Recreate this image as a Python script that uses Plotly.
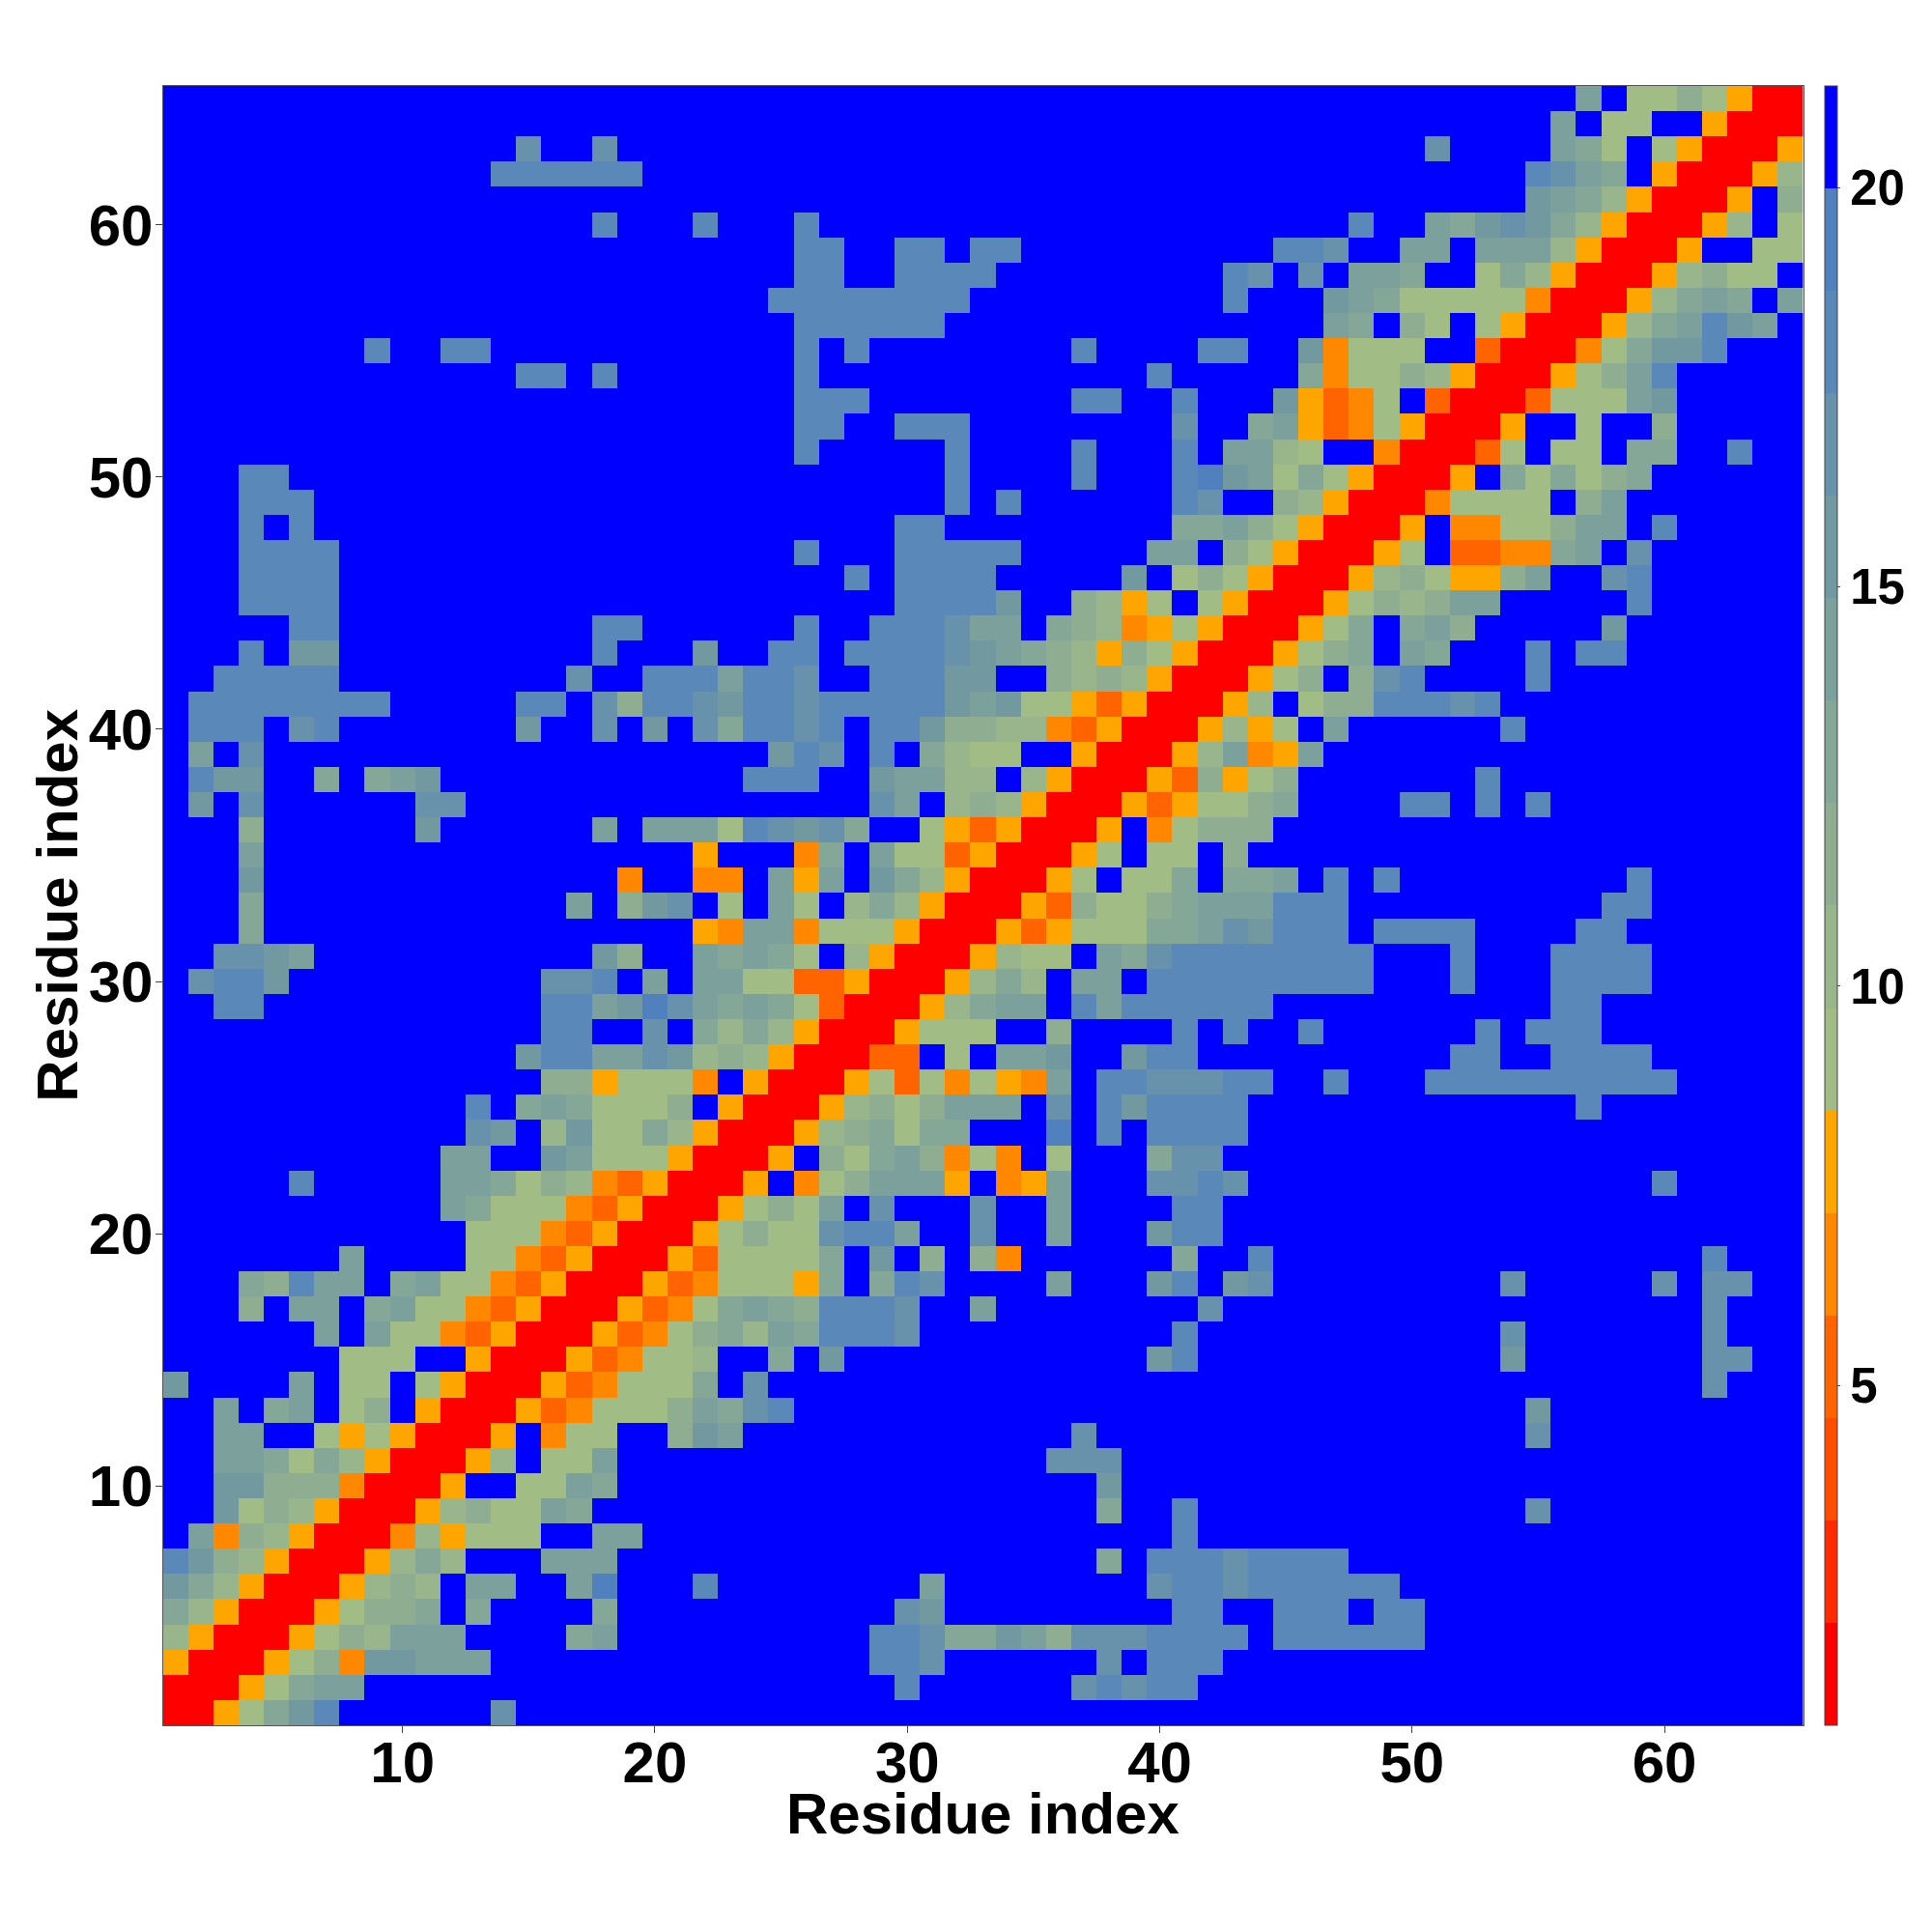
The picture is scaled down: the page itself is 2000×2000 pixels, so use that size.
import plotly.graph_objects as go

residues = list(range(1, 66))
tick_values = [10, 20, 30, 40, 50, 60]
bar_ticks = [5, 10, 15, 20]
axis_label = "Residue index"

# Distance class of each cell, top row = residue 65, bottom row = residue 1
rows_top_down = [
"..... ..... ..... ..... ..... ..... ..... ..... ..... ..... ..... .e.aa caYRR",
"..... ..... ..... ..... ..... ..... ..... ..... ..... ..... ..... e.aa. .YRRR",
"..... ..... ....g ..g.. ..... ..... ..... ..... ..... ..... g.... eda.a YRRRY",
"..... ..... ...hh hhhh. ..... ..... ..... ..... ..... ..... ....h ged.Y RRRYb",
"..... ..... ..... ..... ..... ..... ..... ..... ..... ..... ....f edbYR RRY.c",
"..... ..... ..... ..h.. .h... h.... ..... ..... ..... ..h.. edfgf dbYRR RYb.a",
"..... ..... ..... ..... ..... hh..h h.hh. ..... ....h hg..e e.eee bYRRR Y..aa",
"..... ..... ..... ..... ..... hh..h hhh.. ..... ..hg. g.eed ..adb YRRRY bcaa.",
"..... ..... ..... ..... ....h hhhhh hh... ..... ..h.. .feda aaaaO RRRYb ded.e",
"..... ..... ..... ..... ..... hhhhh h.... ..... ..... .ed.c a.aYR RRYbd ehfe.",
"..... ...h. .hh.. ..... ..... h.h.. ..... .h... .hh.. fOaaa ..FRR ROadf fh...",
"..... ..... ....h h.h.. ..... h.... ..... ....h ..... dOaac bYRRR Yaceh .....",
"..... ..... ..... ..... ..... hhh.. ..... .hh.. h...f YFOa. FRRRF aaaef .....",
"..... ..... ..... ..... ..... hh..h hh... ..... g..de YFOaY RRRY. .a..c .....",
"..... ..... ..... ..... ..... h.... .h... .h... h.eeb a..OR RRFa. aa.dd ..h..",
"...hh ..... ..... ..... ..... ..... .h... .h... hifea daYRR RY.da dacd. .....",
"...hh h.... ..... ..... ..... ..... .h.h. ..... hg..c bYRRR Oaaaa .ce.. .....",
"...h. h.... ..... ..... ..... ....h h.... ..... ddeca YRRRY .OOaa cee.h .....",
"...hh hh... ..... ..... ..... h...h hhhh. ....e e.caY RRRYa .FFOO de.g. .....",
"...hh hh... ..... ..... ..... ..h.h hhh.. ...f. acaYR RRYbc aYYce ..gh. .....",
"...hh hh... ..... ..... ..... ....h hhhf. .cbYa .aYRR RYacb cee.. ...h. .....",
"..... hh... ..... ..hh. ..... h..hh hgee. dcbOY aYRRR Yad.d ec... ..f.. .....",
"...h. ff... ..... ..h.. .f..h h.hhh hgfed cbYca YRRRY acd.e d...h .hh.. .....",
"..hhh hh... ..... .g..h hhehh g..hh hff.. cbcbY RRRYa c.cgh ....h ..... .....",
".hhhh hhhh. ....h h.gch hgfhh ghhhh hfefa aYFYR RRYb. acchh hgh.. ..... .....",
".hhh. gh... ....f ..g.f .gdhh gh.hh fccbb OFYRR RYbYa .e... ...h. ..... .....",
".e.g. ..... ..... ..... ....f hg.h. dbaa. .YRRR YbeOY e.... ..... ..... .....",
".hff. .d.de f.... ..... ...hh h..fe ebb.b YRRRY FcYac ..... ..h.. ..... .....",
".f.g. ..... gg... ..... ..... ...ge .bcbY RRRYF Yaacd ....h h.h.h ..... .....",
"...c. ..... f.... ..e.e eeahg fgd.. aYFYR RRY.O accc. ..... ..... ..... .....",
"...e. ..... ..... ..... .Y... Od.ea aFYRR RYa.a a.c.. ..... ..... ..... .....",
"...f. ..... ..... ...O. .OO.e Ye.fd bYRRR Ya.aa d.dde .h.h. ..... ...h. .....",
"...d. ..... ..... .e.cf g.a.e a.bdb YRRRY Fcaac deeeh hh... ..... ..hh. .....",
"...d. ..... ..... ..... .YOee OaaaY RRRYF Yaaad degfh hh.hh hh... .hh.. .....",
"..ggf e.... ..... ..fc. .eded a.bYR RRYba a.edg hhhhh hhh.. .h... hhhh. .....",
".ghhf ..... ..... ggh.e .eeaa FFYRR RYbdb .ee.h hhhhh hhh.. .h... hhhh. .....",
"..hh. ..... ..... hhefi geded aFRRR Ybdee .hehh hhhh. ..... ..... hh... .....",
"..... ..... ..... hh..g .dbdb YRRRY aaa.. c.... h.h.. h.... ..h.h hh... .....",
"..... ..... ....f hheeg fbcbY RRRFF .a.ee f..fh h.... ..... .hh.. hhhh. .....",
"..... ..... ..... ccYaa aO.YR RRYaF aOaYO e.hhg gghh. .h... hhhhh hhhhh .....",
"..... ..... ..h.d edaaa c.YRR RYbca ceee. g.hfh hhh.. ..... ..... .h... .....",
"..... ..... ..gf. bfaad bYRRR Ybcda dd... i.h.h hhh.. ..... ..... ..... .....",
"..... ..... .ee.. feaaa YRRRY .cade cOaO. a...d gg... ..... ..... ..... .....",
"..... h.... .eeda cbOFY RRRY. Oacee eY.OY e...g ghg.. ..... ..... ....h .....",
"..... ..... .edaa aOFYR RRYac ae.g. ..g.. e.... hh... ..... ..... ..... .....",
"..... ..... ..aaa OFYRR RYaca aghhe ..g.. e...f hh... ..... ..... ..... .....",
"..... ..e.. ..aaO FYRRR YFaaa ad.f. c.cO. ..... d..h. ..... ..... ..... .h...",
"...dc hee.d eaaOF YRRRY FOaaa Yd.dh g.... e...f h.fg. ..... ...g. ....g .gg..",
"...c. ee.de aaOFY RRRYF Oaded chhhg ..e.. ..... .g... ..... ..... ..... .g...",
"..... .e.ea aOFYR RRYFO acdbe dhhhg ..... ..... h.... ..... ...g. ..... .g...",
"..... ..aaa ..YRR RYFOa ab..d .f... ..... ....f h.... ..... ...f. ..... .gg..",
"f.... e.aa. aYRRR YFOaa ad.g. ..... ..... ..... ..... ..... ..... ..... .g...",
"..e.d e.ac. YRRRY FOaaa cedgh ..... ..... ..... ..... ..... ....f ..... .....",
"..ee. .aYaY RRRY. Oaa.. cfe.. ..... ..... .g... ..... ..... ....g ..... .....",
"..eed adbYR RRYb. aae.. ..... ..... ..... ggg.. ..... ..... ..... ..... .....",
"..ffc ccORR RY..a aed.. ..... ..... ..... ..f.. ..... ..... ..... ..... .....",
"..fac bYRRR Ybcaa ed... ..... ..... ..... ..d.. h.... ..... ....g ..... .....",
".eOcb YRRRO bYaaa ..ee. ..... ..... ..... ..... h.... ..... ..... ..... .....",
"hfcbY RRRYb db... eee.. ..... ..... ..... ..d.h hhghh hh... ..... ..... .....",
"fdbYR RRYbc b.ee. .ei.. .h... ..... e.... ....g hhghh hhhh. ..... ..... .....",
"dbYRR RYacc d.d.. ..d.. ..... ....g f.... ..... hh..h hh.hh ..... ..... .....",
"bYRRR Yacbe ee... .de.. ..... ...hh gddfe cgggh hhh.h hhhhh ..... ..... .....",
"YRRRY acOff eee.. ..... ..... ...hh g.... ..g.h hh... ..... ..... ..... .....",
"RRRYa dee.. ..... ..... ..... ....h ..... .ghgh h.... ..... ..... ..... .....",
"RRYad fh... ...g. ..... ..... ..... ..... ..... ..... ..... ..... ..... .....",
]

class_values = {"R": 1.38, "F": 5.23, "O": 6.51, "Y": 7.80, "a": 9.08, "b": 10.36, "c": 11.64,
                "d": 12.93, "e": 14.21, "f": 15.49, "g": 16.77, "h": 18.06, "i": 19.34, ".": 20.62}

z_min, z_max = 0.74, 21.27
band_colors = ["#ff0000", "#ff2a00", "#ff4d00", "#ff6400", "#ff8800", "#ffa500",
               "#a2bc86", "#98b58c", "#8fae91", "#85a797", "#7ca09c", "#72999f",
               "#6892ac", "#5a88b8", "#5080bd", "#0000ff"]

colorscale = []
for i, c in enumerate(band_colors):
    colorscale.append([i / 16, c])
    colorscale.append([(i + 1) / 16, c])

rows = [r.replace(" ", "") for r in rows_top_down]
for n, r in enumerate(rows):
    assert len(r) == 65, (n, len(r))
assert len(rows) == 65
z = [[class_values[ch] for ch in r] for r in reversed(rows)]

W, H = 1984, 1984
OFF = 8
x0, x1, y0, y1 = 168.5 - OFF, 1866.8 - OFF, 89 - OFF, 1786.4 - OFF

fig = go.Figure(go.Heatmap(
    x=residues, y=residues, z=z, zmin=z_min, zmax=z_max, colorscale=colorscale,
    xgap=0, ygap=0,
    colorbar=dict(
        tickvals=bar_ticks, ticks="outside", ticklen=3, tickwidth=1, tickcolor="#444",
        thickness=13, thicknessmode="pixels",
        len=y1 - y0, lenmode="pixels", y=1 - (y0 + y1) / 2 / H, yanchor="middle",
        x=(1889.0 - OFF) / W, xanchor="left", xpad=0, ypad=0,
        outlinewidth=1, outlinecolor="#444",
        tickfont=dict(family="Liberation Sans", size=51, color="black", weight="bold"),
    ),
))
axis_common = dict(
    tickvals=tick_values, ticks="outside", ticklen=7, tickwidth=1, tickcolor="#444",
    showline=True, linewidth=1, linecolor="#555", mirror=True, showgrid=False, zeroline=False,
    range=[0.5, 65.5],
    tickfont=dict(family="Liberation Sans", size=60, color="black", weight="bold"),
)
title_font = dict(family="Liberation Sans", size=60, color="black", weight="bold")
fig.update_layout(
    width=W, height=H, margin=dict(l=0, r=0, t=0, b=0, autoexpand=False),
    paper_bgcolor="white", plot_bgcolor="white",
    xaxis=dict(domain=[x0 / W, x1 / W], ticklabelstandoff=-21, **axis_common),
    yaxis=dict(domain=[1 - y1 / H, 1 - y0 / H], ticklabelstandoff=-10, **axis_common),
    annotations=[
        dict(text=axis_label, xref="paper", yref="paper", showarrow=False, font=title_font,
             x=(x0 + x1) / 2 / W, y=1 - (1877.6 - OFF) / H, xanchor="center", yanchor="middle"),
        dict(text=axis_label, xref="paper", yref="paper", showarrow=False, font=title_font,
             textangle=-90, x=(60 - OFF) / W, y=1 - (y0 + y1) / 2 / H,
             xanchor="center", yanchor="middle"),
    ],
)
# annotation coordinates above are relative to the plot area when margins are zero
fig.write_html("out.html")
